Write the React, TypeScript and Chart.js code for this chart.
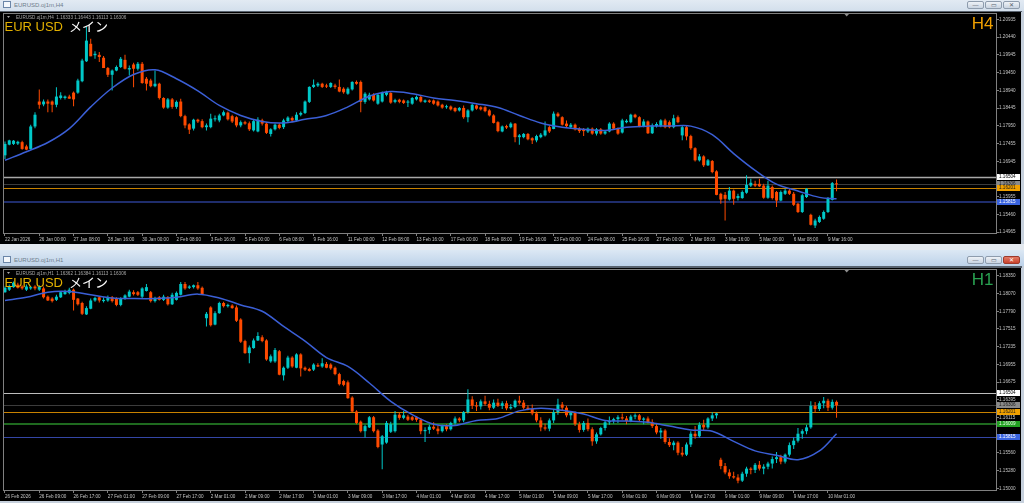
import React, { useEffect, useRef } from 'react';
import { Chart, registerables } from 'chart.js';

Chart.register(...registerables);

// ---------------- colours / fonts ----------------
const BULL = '#00c8c8';
const BEAR = '#ff4a00';
const MA_COLOR = '#3b5fd6';
const AXIS_TEXT = '#c4c4c4';
const FRAME = '#808080';
const SANS = "'Liberation Sans', Arial, sans-serif";

// ---------------- H4 data ----------------
const h4TimeLabels = [
  '22 Jan 2026', '26 Jan 00:00', '27 Jan 08:00', '28 Jan 16:00', '30 Jan 00:00', '2 Feb 08:00',
  '3 Feb 16:00', '5 Feb 00:00', '6 Feb 08:00', '9 Feb 16:00', '11 Feb 00:00', '12 Feb 08:00',
  '13 Feb 16:00', '17 Feb 00:00', '18 Feb 08:00', '19 Feb 16:00', '23 Feb 00:00', '24 Feb 08:00',
  '25 Feb 16:00', '27 Feb 00:00', '2 Mar 08:00', '3 Mar 16:00', '5 Mar 00:00', '6 Mar 08:00', '9 Mar 16:00',
];
const h4PriceTicks = [1.20935, 1.2044, 1.19945, 1.1945, 1.1894, 1.18445, 1.1795, 1.17455, 1.16945, 1.15955, 1.1546, 1.14965];

// [open, high, low, close]
const h4Candles = [
  [1.1712, 1.1751, 1.1702, 1.1744], [1.1742, 1.1756, 1.174, 1.1754], [1.1744, 1.1755, 1.1741, 1.1753], [1.1745, 1.1753, 1.1741, 1.175],
  [1.1749, 1.1753, 1.1728, 1.173], [1.1737, 1.1742, 1.1726, 1.1728], [1.173, 1.1798, 1.1728, 1.1793], [1.1793, 1.1833, 1.1788, 1.1826],
  [1.1863, 1.1897, 1.1843, 1.1854], [1.1855, 1.1869, 1.185, 1.1863], [1.1863, 1.1869, 1.1833, 1.1857], [1.1863, 1.1866, 1.1833, 1.1854],
  [1.1854, 1.1903, 1.1847, 1.1877], [1.1873, 1.1889, 1.1869, 1.188], [1.1873, 1.188, 1.1869, 1.1877], [1.1877, 1.1882, 1.1871, 1.1871],
  [1.1888, 1.1891, 1.185, 1.1869], [1.1888, 1.1927, 1.1885, 1.1922], [1.192, 1.1983, 1.1917, 1.1978], [1.1976, 1.2072, 1.1974, 1.2034],
  [1.2025, 1.2039, 1.199, 1.199], [1.1993, 1.2004, 1.1983, 1.1997], [1.1994, 1.2002, 1.1974, 1.1988], [1.1986, 1.1991, 1.1957, 1.1957],
  [1.1957, 1.196, 1.1932, 1.1938], [1.1938, 1.1953, 1.1894, 1.195], [1.195, 1.1964, 1.1948, 1.196], [1.196, 1.1988, 1.1957, 1.1983],
  [1.198, 1.1994, 1.1953, 1.1955], [1.1953, 1.1964, 1.1936, 1.1957], [1.1967, 1.1972, 1.1903, 1.1955], [1.1955, 1.1974, 1.195, 1.1969],
  [1.1969, 1.1974, 1.1913, 1.1915], [1.1927, 1.1932, 1.1894, 1.1913], [1.1922, 1.1927, 1.1903, 1.1906], [1.1906, 1.195, 1.1903, 1.1913],
  [1.1913, 1.1916, 1.1869, 1.1873], [1.1873, 1.1875, 1.1843, 1.1846], [1.1846, 1.1873, 1.1843, 1.1869], [1.1869, 1.1873, 1.1843, 1.1848],
  [1.1848, 1.1866, 1.1843, 1.1862], [1.1863, 1.1871, 1.1819, 1.1822], [1.1822, 1.1826, 1.1788, 1.1796], [1.1799, 1.1802, 1.1772, 1.1784],
  [1.1787, 1.1815, 1.1782, 1.1812], [1.1812, 1.1815, 1.1803, 1.1807], [1.1808, 1.1813, 1.1788, 1.1791], [1.1791, 1.1801, 1.1782, 1.1796],
  [1.1791, 1.1829, 1.1788, 1.1815], [1.1813, 1.1824, 1.1807, 1.1816], [1.181, 1.1829, 1.1805, 1.1824], [1.1824, 1.1838, 1.1822, 1.1833],
  [1.1832, 1.1835, 1.181, 1.1813], [1.1822, 1.1826, 1.1803, 1.1807], [1.1819, 1.1822, 1.1791, 1.1796], [1.1796, 1.181, 1.1791, 1.1805],
  [1.1805, 1.1809, 1.1798, 1.1801], [1.1802, 1.1807, 1.178, 1.1785], [1.1782, 1.1813, 1.1779, 1.1808], [1.1779, 1.1819, 1.1777, 1.1812],
  [1.181, 1.1815, 1.1796, 1.1801], [1.1801, 1.1805, 1.1772, 1.1775], [1.1772, 1.1788, 1.1765, 1.1785], [1.1785, 1.1801, 1.1782, 1.1798],
  [1.1798, 1.1802, 1.1785, 1.1789], [1.1791, 1.1815, 1.1786, 1.181], [1.1808, 1.1822, 1.1805, 1.1818], [1.1817, 1.1821, 1.1805, 1.181],
  [1.181, 1.1833, 1.1807, 1.1826], [1.1826, 1.1835, 1.1822, 1.1831], [1.1831, 1.1866, 1.1828, 1.1863], [1.1862, 1.1906, 1.1859, 1.1904],
  [1.1904, 1.1925, 1.1901, 1.191], [1.1908, 1.1917, 1.1904, 1.1913], [1.1913, 1.1916, 1.1901, 1.1904], [1.1908, 1.1913, 1.1901, 1.1905],
  [1.1904, 1.1917, 1.1901, 1.1915], [1.1908, 1.1913, 1.1899, 1.1904], [1.1904, 1.1925, 1.1889, 1.1891], [1.1899, 1.1903, 1.1885, 1.1889],
  [1.1885, 1.1903, 1.1882, 1.1899], [1.1897, 1.192, 1.1894, 1.1918], [1.1918, 1.1922, 1.191, 1.1913], [1.1918, 1.1922, 1.1833, 1.1862],
  [1.1862, 1.1889, 1.1857, 1.1885], [1.1869, 1.1888, 1.1866, 1.1882], [1.1882, 1.1886, 1.1863, 1.1866], [1.1857, 1.1886, 1.1854, 1.1882],
  [1.1863, 1.1891, 1.186, 1.1888], [1.1882, 1.1893, 1.1878, 1.1889], [1.1887, 1.1889, 1.1857, 1.186], [1.1862, 1.1871, 1.1858, 1.1867],
  [1.1868, 1.1871, 1.1858, 1.1862], [1.1866, 1.1869, 1.1856, 1.1859], [1.186, 1.1867, 1.1848, 1.1863], [1.1857, 1.1876, 1.1854, 1.1873],
  [1.1869, 1.188, 1.1866, 1.1876], [1.1876, 1.188, 1.186, 1.1863], [1.1862, 1.1869, 1.1859, 1.1866], [1.1866, 1.1869, 1.1859, 1.1862],
  [1.1866, 1.1869, 1.1854, 1.1857], [1.1863, 1.1866, 1.1849, 1.1852], [1.1854, 1.1857, 1.1843, 1.1846], [1.1847, 1.1854, 1.1843, 1.1849],
  [1.1849, 1.1852, 1.1838, 1.1841], [1.1845, 1.1847, 1.1833, 1.1836], [1.1838, 1.1848, 1.1835, 1.1845], [1.1845, 1.1852, 1.1815, 1.1819],
  [1.1819, 1.1841, 1.1805, 1.1838], [1.1838, 1.1857, 1.1835, 1.1854], [1.1852, 1.1855, 1.184, 1.1843], [1.1847, 1.185, 1.1838, 1.1841],
  [1.1847, 1.185, 1.1833, 1.1836], [1.1838, 1.1841, 1.1821, 1.1824], [1.1824, 1.1827, 1.1801, 1.1803], [1.1805, 1.1808, 1.1777, 1.178],
  [1.1779, 1.1796, 1.1777, 1.1793], [1.1794, 1.1798, 1.1786, 1.179], [1.1791, 1.1805, 1.1788, 1.1801], [1.1801, 1.1803, 1.1749, 1.1763],
  [1.1763, 1.1772, 1.1742, 1.1768], [1.1763, 1.1775, 1.176, 1.1772], [1.1772, 1.1775, 1.1754, 1.1757], [1.176, 1.1763, 1.1744, 1.1754],
  [1.1754, 1.177, 1.1749, 1.1766], [1.1763, 1.1775, 1.176, 1.177], [1.1768, 1.1807, 1.1765, 1.1782], [1.1791, 1.1796, 1.1775, 1.1779],
  [1.1786, 1.1835, 1.1785, 1.1829], [1.1829, 1.1833, 1.1819, 1.1822], [1.1819, 1.1822, 1.1796, 1.1798], [1.1801, 1.181, 1.1791, 1.1794],
  [1.1791, 1.1803, 1.1788, 1.1798], [1.1798, 1.1801, 1.1782, 1.1785], [1.1787, 1.1791, 1.1775, 1.178], [1.1785, 1.1789, 1.1766, 1.178],
  [1.1779, 1.179, 1.1775, 1.1787], [1.1787, 1.179, 1.177, 1.1773], [1.1773, 1.1789, 1.1768, 1.1785], [1.1785, 1.1789, 1.177, 1.1773],
  [1.1773, 1.1783, 1.177, 1.1779], [1.1779, 1.1805, 1.1777, 1.1801], [1.1801, 1.1805, 1.1785, 1.1787], [1.1787, 1.179, 1.177, 1.1773],
  [1.1776, 1.1815, 1.1773, 1.181], [1.1805, 1.1813, 1.1802, 1.1809], [1.1805, 1.1829, 1.1802, 1.1826], [1.1826, 1.1829, 1.1816, 1.1819],
  [1.1819, 1.1822, 1.1791, 1.1794], [1.1794, 1.1813, 1.1791, 1.1807], [1.1807, 1.181, 1.1772, 1.1774], [1.1774, 1.1801, 1.1772, 1.1796],
  [1.1794, 1.1805, 1.179, 1.18], [1.1794, 1.1813, 1.1791, 1.181], [1.181, 1.1815, 1.1788, 1.1791], [1.1805, 1.181, 1.1788, 1.1791],
  [1.1791, 1.1826, 1.1788, 1.1816], [1.1819, 1.1824, 1.1802, 1.1805], [1.1768, 1.1796, 1.1754, 1.1791], [1.1791, 1.1796, 1.1754, 1.1765],
  [1.1766, 1.177, 1.1728, 1.1732], [1.1732, 1.1735, 1.1695, 1.1698], [1.1698, 1.1716, 1.1695, 1.1709], [1.1709, 1.1712, 1.1679, 1.1684],
  [1.1684, 1.1702, 1.1682, 1.1698], [1.1696, 1.1699, 1.1662, 1.1665], [1.1667, 1.167, 1.16, 1.1601], [1.1604, 1.1607, 1.1576, 1.1588],
  [1.1601, 1.1609, 1.1529, 1.159], [1.1588, 1.1623, 1.1585, 1.1613], [1.1613, 1.1616, 1.1573, 1.159], [1.1592, 1.1604, 1.1585, 1.1598],
  [1.1592, 1.1613, 1.159, 1.1609], [1.1607, 1.1656, 1.1604, 1.1629], [1.1627, 1.1646, 1.1623, 1.1635], [1.1632, 1.1641, 1.1623, 1.1627],
  [1.1632, 1.1646, 1.1623, 1.1625], [1.1627, 1.1632, 1.159, 1.1593], [1.1593, 1.1641, 1.159, 1.1627], [1.1623, 1.1627, 1.1588, 1.1592],
  [1.1609, 1.1612, 1.1567, 1.1585], [1.1585, 1.1613, 1.1583, 1.1609], [1.1604, 1.1618, 1.1601, 1.1613], [1.1613, 1.1618, 1.1601, 1.1604],
  [1.1604, 1.1609, 1.157, 1.1573], [1.1576, 1.1579, 1.155, 1.1553], [1.1553, 1.1604, 1.155, 1.16], [1.1595, 1.162, 1.1592, 1.1618],
  [1.1545, 1.1548, 1.1515, 1.1517], [1.1515, 1.1534, 1.1508, 1.1529], [1.1525, 1.1543, 1.1522, 1.1539], [1.1534, 1.1557, 1.1531, 1.1553],
  [1.1553, 1.1595, 1.155, 1.159], [1.1587, 1.1637, 1.1585, 1.1634], [1.16333, 1.16443, 1.16113, 1.16306],
];
// [bar index, moving average value]
const h4MovingAverage = [
  [0, 1.1698], [5, 1.1722], [10, 1.1748], [15, 1.1787], [20, 1.1848], [25, 1.1901], [30, 1.1939], [35, 1.1952],
  [40, 1.1927], [45, 1.1893], [50, 1.1852], [55, 1.1824], [60, 1.1807], [65, 1.1803], [70, 1.1813], [75, 1.1824],
  [80, 1.1848], [85, 1.1878], [90, 1.1891], [95, 1.1885], [100, 1.1873], [105, 1.1866], [110, 1.1857], [115, 1.1846],
  [120, 1.1824], [125, 1.1803], [130, 1.1791], [135, 1.1785], [140, 1.1782], [145, 1.1791], [150, 1.1794], [155, 1.1794],
  [160, 1.1794], [165, 1.177], [170, 1.1717], [175, 1.167], [180, 1.1631], [185, 1.1612], [190, 1.1594], [194, 1.159],
];
const h4Header = 'EURUSD.oj1m,H4  1.16333 1.16443 1.16113 1.16306';
const h4Lines = [
  { price: 1.16504, color: '#a8a8a8', width: 1.5 },
  { price: 1.16306, color: '#3c3c3c', width: 1 },
  { price: 1.16201, color: '#c88200', width: 1 },
  { price: 1.15815, color: '#1f2d6c', width: 2 },
];
const h4Tags = [
  { price: 1.16504, text: '1.16504', bg: '#ffffff', fg: '#000000' },
  { price: 1.16306, text: '1.16306', bg: '#8a8a8a', fg: '#1a1a1a' },
  { price: 1.16201, text: '1.16201', bg: '#f0a000', fg: '#1a1a1a' },
  { price: 1.15815, text: '1.15815', bg: '#3a64e0', fg: '#ffffff' },
];

// ---------------- H1 data ----------------
const h1TimeLabels = [
  '26 Feb 2026', '26 Feb 09:00', '26 Feb 17:00', '27 Feb 01:00', '27 Feb 09:00', '27 Feb 17:00',
  '2 Mar 01:00', '2 Mar 09:00', '2 Mar 17:00', '3 Mar 01:00', '3 Mar 09:00', '3 Mar 17:00',
  '4 Mar 01:00', '4 Mar 09:00', '4 Mar 17:00', '5 Mar 01:00', '5 Mar 09:00', '5 Mar 17:00',
  '6 Mar 01:00', '6 Mar 09:00', '6 Mar 17:00', '9 Mar 01:00', '9 Mar 09:00', '9 Mar 17:00', '10 Mar 01:00',
];
const h1PriceTicks = [1.1835, 1.1807, 1.1779, 1.17515, 1.17235, 1.16955, 1.16675, 1.16395, 1.16115, 1.1556, 1.1528, 1.15];
const h1Candles = [
  [1.1809, 1.1818, 1.1808, 1.1816], [1.1813, 1.1821, 1.1811, 1.1818], [1.1817, 1.1826, 1.1816, 1.1824], [1.1821, 1.1824, 1.1815, 1.1816],
  [1.1818, 1.182, 1.1813, 1.1815], [1.1813, 1.1821, 1.1811, 1.1818], [1.1815, 1.1819, 1.1813, 1.1817], [1.1818, 1.182, 1.1812, 1.1815],
  [1.1813, 1.182, 1.1811, 1.1818], [1.1815, 1.1818, 1.1799, 1.1801], [1.1802, 1.1804, 1.1795, 1.1796], [1.1799, 1.1801, 1.1793, 1.1795],
  [1.1797, 1.1805, 1.1795, 1.1802], [1.1801, 1.1811, 1.18, 1.1809], [1.1806, 1.1813, 1.1805, 1.1811], [1.1808, 1.1816, 1.1806, 1.1813],
  [1.1813, 1.1815, 1.178, 1.1797], [1.1799, 1.18, 1.1788, 1.179], [1.1792, 1.1794, 1.1773, 1.1775], [1.1774, 1.1787, 1.1773, 1.1784],
  [1.1783, 1.1799, 1.1782, 1.1796], [1.1796, 1.1802, 1.1794, 1.18], [1.1801, 1.1803, 1.1793, 1.1796], [1.1795, 1.1801, 1.1793, 1.1797],
  [1.1796, 1.1804, 1.1794, 1.1801], [1.1801, 1.1803, 1.1793, 1.1795], [1.1799, 1.1801, 1.1787, 1.1789], [1.1789, 1.1801, 1.1787, 1.1799],
  [1.1799, 1.1806, 1.1797, 1.1804], [1.1802, 1.1813, 1.1801, 1.181], [1.1809, 1.1812, 1.1804, 1.1806], [1.1809, 1.1811, 1.1803, 1.1805],
  [1.1802, 1.1817, 1.18, 1.1815], [1.1811, 1.1822, 1.181, 1.1817], [1.1809, 1.1811, 1.1793, 1.1795], [1.1795, 1.1802, 1.1793, 1.18],
  [1.1801, 1.1803, 1.1796, 1.1797], [1.1797, 1.1805, 1.1795, 1.1802], [1.1801, 1.1803, 1.1788, 1.179], [1.179, 1.1808, 1.1789, 1.1805],
  [1.1797, 1.181, 1.1796, 1.1808], [1.1805, 1.1825, 1.1804, 1.1822], [1.1822, 1.1825, 1.1813, 1.1815], [1.1816, 1.182, 1.1814, 1.1818],
  [1.1817, 1.1821, 1.1815, 1.182], [1.182, 1.1825, 1.1813, 1.1815], [1.1816, 1.1818, 1.1805, 1.1806], [1.1768, 1.1778, 1.1755, 1.1775],
  [1.1785, 1.1787, 1.1755, 1.1757], [1.1758, 1.1779, 1.1757, 1.1776], [1.1776, 1.1794, 1.1775, 1.1792], [1.1792, 1.1794, 1.1785, 1.1787],
  [1.1787, 1.1791, 1.1785, 1.1789], [1.1788, 1.179, 1.1783, 1.1784], [1.1785, 1.1788, 1.1762, 1.1764], [1.1766, 1.1768, 1.1729, 1.1731],
  [1.1732, 1.1734, 1.1712, 1.1713], [1.1713, 1.1725, 1.1697, 1.1722], [1.1721, 1.1736, 1.172, 1.1733], [1.1733, 1.1746, 1.1732, 1.174],
  [1.1738, 1.1741, 1.173, 1.1732], [1.1733, 1.1735, 1.1701, 1.1703], [1.17, 1.1711, 1.1698, 1.1708], [1.17, 1.1721, 1.1698, 1.1718],
  [1.1716, 1.1718, 1.1678, 1.1679], [1.1678, 1.1692, 1.167, 1.169], [1.169, 1.1709, 1.1688, 1.1706], [1.1706, 1.1708, 1.169, 1.1692],
  [1.169, 1.1713, 1.1689, 1.1711], [1.1711, 1.1713, 1.1676, 1.1689], [1.169, 1.1692, 1.1685, 1.1687], [1.1688, 1.169, 1.1684, 1.1685],
  [1.1687, 1.1697, 1.1685, 1.1695], [1.1694, 1.1697, 1.1691, 1.1692], [1.1692, 1.1705, 1.169, 1.1697], [1.1696, 1.1699, 1.1689, 1.169],
  [1.1695, 1.1697, 1.1687, 1.1689], [1.169, 1.1692, 1.1678, 1.168], [1.168, 1.1682, 1.1662, 1.1664], [1.1669, 1.1671, 1.1661, 1.1663],
  [1.1667, 1.167, 1.1641, 1.1642], [1.1643, 1.1645, 1.162, 1.1621], [1.1621, 1.1623, 1.1601, 1.1603], [1.1605, 1.1607, 1.1588, 1.159],
  [1.159, 1.16, 1.158, 1.1598], [1.1596, 1.1614, 1.1595, 1.1612], [1.1612, 1.1614, 1.1588, 1.159], [1.1591, 1.1593, 1.1563, 1.1565],
  [1.1569, 1.1584, 1.153, 1.1582], [1.1572, 1.1606, 1.157, 1.1603], [1.1589, 1.1605, 1.1587, 1.1601], [1.159, 1.1622, 1.1588, 1.1616],
  [1.1616, 1.1619, 1.1608, 1.1611], [1.1611, 1.1622, 1.1609, 1.1615], [1.1613, 1.1616, 1.1606, 1.1608], [1.1612, 1.1614, 1.1606, 1.1608],
  [1.1612, 1.1614, 1.1605, 1.1608], [1.1608, 1.161, 1.1585, 1.159], [1.159, 1.1596, 1.1573, 1.1592], [1.1592, 1.16, 1.1586, 1.1597],
  [1.1597, 1.1604, 1.1592, 1.1594], [1.1594, 1.1599, 1.1585, 1.159], [1.159, 1.16, 1.1588, 1.1598], [1.1598, 1.1601, 1.159, 1.1593],
  [1.1593, 1.1605, 1.1591, 1.1603], [1.1603, 1.1613, 1.16, 1.161], [1.161, 1.1612, 1.1604, 1.1607], [1.1607, 1.1622, 1.1604, 1.162],
  [1.162, 1.1656, 1.1618, 1.164], [1.164, 1.1645, 1.1625, 1.163], [1.163, 1.1636, 1.1622, 1.1629], [1.1629, 1.164, 1.1624, 1.1637],
  [1.1637, 1.1646, 1.163, 1.1633], [1.1633, 1.1638, 1.1623, 1.1627], [1.1627, 1.164, 1.1625, 1.1635], [1.1635, 1.1641, 1.1628, 1.163],
  [1.163, 1.1637, 1.1625, 1.1634], [1.1634, 1.1638, 1.1623, 1.1626], [1.1626, 1.1633, 1.1624, 1.1628], [1.1628, 1.164, 1.1626, 1.1638],
  [1.1638, 1.1646, 1.1632, 1.1635], [1.1635, 1.1639, 1.1624, 1.1627], [1.1627, 1.1631, 1.1623, 1.1625], [1.1625, 1.1632, 1.1615, 1.1618],
  [1.1618, 1.1621, 1.1604, 1.1607], [1.1607, 1.1612, 1.159, 1.1596], [1.1596, 1.1602, 1.1591, 1.1594], [1.1594, 1.161, 1.159, 1.1607],
  [1.1607, 1.1625, 1.1603, 1.162], [1.162, 1.1641, 1.1616, 1.1632], [1.1632, 1.1636, 1.1622, 1.1627], [1.1627, 1.163, 1.1612, 1.1615],
  [1.1615, 1.1622, 1.1608, 1.1619], [1.1619, 1.1621, 1.1598, 1.1601], [1.1601, 1.1605, 1.1588, 1.1592], [1.1592, 1.1606, 1.1589, 1.1603],
  [1.1603, 1.161, 1.159, 1.1593], [1.1593, 1.1596, 1.1567, 1.1574], [1.1574, 1.1588, 1.157, 1.1585], [1.1585, 1.1597, 1.1583, 1.1595],
  [1.1595, 1.1607, 1.1591, 1.1604], [1.1604, 1.1613, 1.16, 1.1606], [1.1606, 1.1611, 1.1602, 1.1609], [1.1609, 1.1615, 1.1603, 1.1612],
  [1.1612, 1.1618, 1.1608, 1.161], [1.161, 1.1614, 1.1601, 1.1606], [1.1606, 1.1616, 1.1604, 1.1613], [1.1613, 1.1618, 1.1609, 1.1615],
  [1.1615, 1.1617, 1.1605, 1.1608], [1.1608, 1.1612, 1.1601, 1.161], [1.161, 1.1613, 1.1602, 1.1604], [1.1604, 1.1609, 1.1595, 1.1598],
  [1.1598, 1.1602, 1.1585, 1.1588], [1.1588, 1.1595, 1.1578, 1.1591], [1.1591, 1.1593, 1.157, 1.1573], [1.1573, 1.1579, 1.1565, 1.1568],
  [1.1568, 1.1575, 1.156, 1.1572], [1.1572, 1.1574, 1.1552, 1.1556], [1.1556, 1.1565, 1.155, 1.1553], [1.1553, 1.1572, 1.1551, 1.1569],
  [1.1569, 1.159, 1.1565, 1.1586], [1.1586, 1.1598, 1.1578, 1.1582], [1.1582, 1.1604, 1.158, 1.16], [1.16, 1.1608, 1.1592, 1.1596],
  [1.1596, 1.1612, 1.1594, 1.161], [1.161, 1.162, 1.1606, 1.1615], [1.1615, 1.1619, 1.161, 1.1618], [1.1545, 1.1548, 1.153, 1.1535],
  [1.1535, 1.154, 1.1522, 1.1525], [1.1525, 1.153, 1.1515, 1.1519], [1.1519, 1.1526, 1.1515, 1.1517], [1.1517, 1.1522, 1.1508, 1.1512],
  [1.1512, 1.1526, 1.151, 1.1523], [1.1523, 1.1534, 1.1518, 1.1531], [1.1531, 1.1533, 1.1522, 1.1529], [1.1529, 1.154, 1.1524, 1.1537],
  [1.1537, 1.1543, 1.1528, 1.1531], [1.1531, 1.1538, 1.1522, 1.1534], [1.1534, 1.1542, 1.153, 1.1539], [1.1539, 1.155, 1.1531, 1.1546],
  [1.1546, 1.1557, 1.154, 1.1549], [1.1549, 1.1553, 1.1538, 1.1542], [1.1542, 1.1555, 1.1539, 1.1553], [1.1553, 1.1572, 1.155, 1.1568],
  [1.1568, 1.158, 1.1562, 1.1575], [1.1575, 1.1595, 1.1572, 1.1586], [1.1586, 1.1593, 1.1578, 1.159], [1.159, 1.16, 1.1585, 1.1596],
  [1.1596, 1.1637, 1.1594, 1.163], [1.163, 1.1636, 1.162, 1.1625], [1.1625, 1.1637, 1.1622, 1.1634], [1.1634, 1.1644, 1.1626, 1.1638],
  [1.1638, 1.1641, 1.1622, 1.1627], [1.1627, 1.164, 1.1624, 1.16362], [1.16362, 1.16384, 1.16113, 1.16306],
];
const h1MovingAverage = [
  [0, 1.1796], [5, 1.1801], [10, 1.1809], [15, 1.181], [20, 1.1805], [25, 1.18], [30, 1.1799], [35, 1.1799],
  [40, 1.1801], [45, 1.1806], [50, 1.18], [55, 1.1789], [60, 1.1779], [65, 1.1755], [70, 1.1732], [75, 1.1706],
  [80, 1.1692], [85, 1.1666], [90, 1.1637], [95, 1.1616], [100, 1.1601], [105, 1.1599], [110, 1.1607], [115, 1.161],
  [120, 1.1622], [125, 1.1626], [130, 1.1623], [135, 1.1617], [140, 1.1607], [145, 1.1606], [150, 1.1604], [155, 1.1598],
  [160, 1.1592], [165, 1.159], [170, 1.1574], [175, 1.1559], [180, 1.1552], [185, 1.1545], [190, 1.1559], [194, 1.1586],
];
const h1Header = 'EURUSD.oj1m,H1  1.16362 1.16384 1.16113 1.16306';
const h1Lines = [
  { price: 1.16504, color: '#bdbdbd', width: 1 },
  { price: 1.16306, color: '#3c3c3c', width: 1 },
  { price: 1.16201, color: '#c88200', width: 1 },
  { price: 1.16009, color: '#1f6a1f', width: 2 },
  { price: 1.15815, color: '#3446a6', width: 1 },
];
const h1Tags = [
  { price: 1.16504, text: '1.16504', bg: '#ffffff', fg: '#000000' },
  { price: 1.16306, text: '1.16306', bg: '#8a8a8a', fg: '#1a1a1a' },
  { price: 1.16201, text: '1.16201', bg: '#f0a000', fg: '#1a1a1a' },
  { price: 1.16009, text: '1.16009', bg: '#22a022', fg: '#eaffea' },
  { price: 1.15815, text: '1.15815', bg: '#3a64e0', fg: '#ffffff' },
];

// ---------------- chart builder ----------------
type Spec = {
  candles: number[][];
  ma: number[][];
  timeLabels: string[];
  priceTicks: number[];
  yMin: number;
  yMax: number;
  header: string;
  tf: string;
  tfColor: string;
  lines: { price: number; color: string; width: number }[];
  tags: { price: number; text: string; bg: string; fg: string }[];
};

const X_MIN = -0.23;
const X_MAX = 231.2;

function makeChart(canvas: HTMLCanvasElement, s: Spec) {
  const colors = s.candles.map((c) => (c[3] >= c[0] ? BULL : BEAR));
  const smallFont = { family: SANS, size: 4.6 };

  const look = {
    id: 'mt4Look',
    beforeDraw(chart: any) {
      const { ctx, width, height } = chart;
      ctx.save();
      ctx.fillStyle = '#000000';
      ctx.fillRect(0, 0, width, height);
      ctx.restore();
    },
    beforeDatasetsDraw(chart: any) {
      const { ctx, chartArea: a } = chart;
      const y = chart.scales.y;
      ctx.save();
      for (const ln of s.lines) {
        const py = Math.round(y.getPixelForValue(ln.price)) + (ln.width === 2 ? 0 : 0.5);
        ctx.strokeStyle = ln.color;
        ctx.lineWidth = ln.width;
        ctx.beginPath();
        ctx.moveTo(a.left, py);
        ctx.lineTo(a.right, py);
        ctx.stroke();
      }
      ctx.restore();
    },
    afterDraw(chart: any) {
      const { ctx, chartArea: a } = chart;
      const y = chart.scales.y;
      ctx.save();
      // frame
      ctx.strokeStyle = FRAME;
      ctx.lineWidth = 1;
      ctx.strokeRect(a.left - 0.5, a.top + 0.5, a.right - a.left + 1, a.bottom - a.top);
      // price tags on the right scale
      ctx.font = `4.6px ${SANS}`;
      ctx.textBaseline = 'middle';
      ctx.textAlign = 'left';
      for (const t of s.tags) {
        const py = y.getPixelForValue(t.price);
        ctx.fillStyle = t.bg;
        ctx.fillRect(a.right + 1, Math.round(py) - 3, 23, 6);
        ctx.fillStyle = t.fg;
        ctx.fillText(t.text, a.right + 3, Math.round(py) + 0.2);
      }
      // header line
      ctx.fillStyle = '#a8a8a8';
      ctx.beginPath();
      ctx.moveTo(7, 4);
      ctx.lineTo(10, 4);
      ctx.lineTo(8.5, 6);
      ctx.closePath();
      ctx.fill();
      ctx.fillText(s.header, 16, 5.3);
      // shift marker
      ctx.fillStyle = '#909090';
      ctx.beginPath();
      ctx.moveTo(844.5, 2);
      ctx.lineTo(849, 2);
      ctx.lineTo(846.7, 4.5);
      ctx.closePath();
      ctx.fill();
      // labels
      ctx.textBaseline = 'alphabetic';
      ctx.font = `13px ${SANS}`;
      ctx.fillStyle = '#e2b000';
      ctx.fillText('EUR USD', 4.5, 18.5);
      ctx.font = "13px 'Noto Sans CJK JP', sans-serif";
      ctx.fillStyle = '#ffffff';
      ctx.fillText('メイン', 69, 18.5);
      ctx.font = `17px ${SANS}`;
      ctx.textAlign = 'right';
      ctx.fillStyle = s.tfColor;
      ctx.fillText(s.tf, 993.5, 17);
      ctx.restore();
    },
  };

  return new Chart(canvas, {
    type: 'bar',
    data: {
      datasets: [
        {
          type: 'line',
          data: s.ma.map(([i, v]) => ({ x: i, y: v })),
          borderColor: MA_COLOR,
          borderWidth: 1.5,
          pointRadius: 0,
          tension: 0.35,
          fill: false,
          order: 0,
        } as any,
        {
          type: 'bar',
          data: s.candles.map((c, i) => ({ x: i, y: [Math.min(c[0], c[3]), Math.max(c[0], c[3])] })),
          backgroundColor: colors,
          barThickness: 3,
          maxBarThickness: 3,
          minBarLength: 1,
          grouped: false,
          inflateAmount: 0,
          borderWidth: 0,
          order: 1,
        } as any,
        {
          type: 'bar',
          data: s.candles.map((c, i) => ({ x: i, y: [c[2], c[1]] })),
          backgroundColor: colors,
          barThickness: 1,
          maxBarThickness: 1,
          grouped: false,
          inflateAmount: 0,
          borderWidth: 0,
          order: 2,
        } as any,
      ],
    },
    options: {
      responsive: false,
      maintainAspectRatio: false,
      devicePixelRatio: 1,
      animation: false,
      events: [],
      layout: { padding: { left: 4, top: 1, right: 0, bottom: 0 } },
      plugins: { legend: { display: false }, tooltip: { enabled: false }, title: { display: false } },
      scales: {
        x: {
          type: 'linear',
          min: X_MIN,
          max: X_MAX,
          offset: false,
          grid: { display: true, offset: false, drawOnChartArea: false, drawTicks: true, tickLength: 3, color: FRAME },
          border: { display: false },
          ticks: {
            color: AXIS_TEXT,
            font: smallFont,
            align: 'start',
            padding: 0.5,
            maxRotation: 0,
            autoSkip: false,
            callback: (_v: any, i: number) => s.timeLabels[i],
          },
          afterBuildTicks: (sc: any) => {
            sc.ticks = s.timeLabels.map((_, k) => ({ value: k * 8 }));
          },
          afterFit: (sc: any) => {
            sc.height = 11;
            sc.paddingLeft = 0;
            sc.paddingRight = 0;
          },
        },
        y: {
          type: 'linear',
          position: 'right',
          min: s.yMin,
          max: s.yMax,
          grid: { display: true, drawOnChartArea: false, drawTicks: true, tickLength: 3, color: FRAME },
          border: { display: false },
          ticks: {
            color: AXIS_TEXT,
            font: smallFont,
            padding: 0,
            autoSkip: false,
            callback: (v: any) => Number(v).toFixed(5),
          },
          afterBuildTicks: (sc: any) => {
            sc.ticks = s.priceTicks.map((v) => ({ value: v }));
          },
          afterFit: (sc: any) => {
            sc.width = 25;
            sc.paddingTop = 0;
            sc.paddingBottom = 0;
          },
        },
      },
    } as any,
    plugins: [look],
  });
}

function CandleCanvas({ spec, top, height }: { spec: Spec; top: number; height: number }) {
  const ref = useRef<HTMLCanvasElement | null>(null);
  useEffect(() => {
    const chart = makeChart(ref.current as HTMLCanvasElement, spec);
    return () => chart.destroy();
  }, [spec]);
  return (
    <canvas
      ref={ref}
      width={1021}
      height={height}
      style={{ position: 'absolute', left: 0, top, width: 1021, height, display: 'block' }}
    />
  );
}

function TitleBar({ top, height, title, active }: { top: number; height: number; title: string; active: boolean }) {
  const btnTop = height - 10;
  const btn = (left: number, red: boolean, glyph: string) => (
    <div
      style={{
        position: 'absolute',
        left,
        top: btnTop,
        width: 17,
        height: 8,
        boxSizing: 'border-box',
        border: red ? '1px solid #9c3a2c' : '1px solid #8e9cad',
        borderRadius: 2,
        background: red ? 'linear-gradient(#e27a66, #c8422c)' : 'linear-gradient(#eef2f7, #c9d4e1)',
        color: red ? '#ffffff' : '#55606c',
        fontSize: 6,
        lineHeight: '6px',
        textAlign: 'center',
        fontFamily: SANS,
      }}
    >
      {glyph}
    </div>
  );
  return (
    <div
      style={{
        position: 'absolute',
        left: 0,
        top,
        width: 1024,
        height,
        background: active ? 'linear-gradient(#dce8f4, #bdd2e9)' : 'linear-gradient(#e2eaf3, #d3dfec)',
      }}
    >
      <div
        style={{
          position: 'absolute',
          left: 3,
          top: height - 10,
          width: 8,
          height: 7,
          boxSizing: 'border-box',
          border: '1px solid #6b86a8',
          background: '#f4f8fc',
        }}
      />
      <div
        style={{
          position: 'absolute',
          left: 14,
          top: height - 10,
          height: 8,
          lineHeight: '8px',
          fontSize: 6,
          color: '#6f7d8c',
          fontFamily: SANS,
          whiteSpace: 'nowrap',
        }}
      >
        {title}
      </div>
      {btn(967, false, '—')}
      {btn(985, false, '▭')}
      {btn(1003, active, '✕')}
    </div>
  );
}

const h4Spec: Spec = {
  candles: h4Candles,
  ma: h4MovingAverage,
  timeLabels: h4TimeLabels,
  priceTicks: h4PriceTicks,
  yMin: 1.1494,
  yMax: 1.21115,
  header: h4Header,
  tf: 'H4',
  tfColor: '#f0a000',
  lines: h4Lines,
  tags: h4Tags,
};

const h1Spec: Spec = {
  candles: h1Candles,
  ma: h1MovingAverage,
  timeLabels: h1TimeLabels,
  priceTicks: h1PriceTicks,
  yMin: 1.14973,
  yMax: 1.18456,
  header: h1Header,
  tf: 'H1',
  tfColor: '#28a050',
  lines: h1Lines,
  tags: h1Tags,
};

export default function App() {
  return (
    <div
      style={{
        position: 'fixed',
        left: 0,
        top: 0,
        width: 1024,
        height: 503,
        background: '#c6d0dc',
        overflow: 'hidden',
      }}
    >
      <TitleBar top={0} height={11} title="EURUSD.oj1m,H4" active={false} />
      <div style={{ position: 'absolute', left: 0, top: 11, width: 1022, height: 1, background: '#59636f' }} />
      <CandleCanvas spec={h4Spec} top={12} height={232} />
      <div style={{ position: 'absolute', left: 0, top: 244, width: 1024, height: 6, background: '#e3e8ee' }} />
      <TitleBar top={250} height={16} title="EURUSD.oj1m,H1" active={true} />
      <div style={{ position: 'absolute', left: 0, top: 266, width: 1022, height: 2, background: '#59636f' }} />
      <CandleCanvas spec={h1Spec} top={268} height={233} />
    </div>
  );
}
